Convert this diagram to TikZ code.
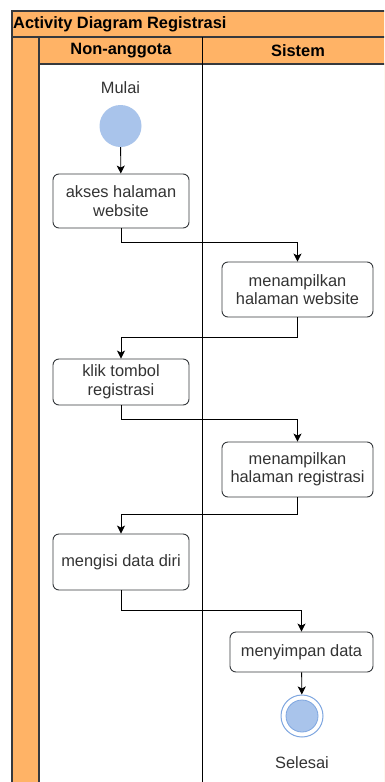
\documentclass[tikz,border=0pt]{standalone}
\usepackage{fontspec}
\setmainfont{Liberation Sans}
\usetikzlibrary{arrows.meta}

\definecolor{poolfill}{HTML}{FFB366}
\definecolor{poolline}{HTML}{36393D}
\definecolor{nodefill}{HTML}{A9C4EB}
\definecolor{ringline}{HTML}{7EA6E0}
\definecolor{txt}{HTML}{333333}

\tikzset{
  activity/.style={draw=poolline, line width=0.9pt, rounded corners=6pt, fill=white,
    align=center, text=txt, font=\fontsize{16.4}{18.5}\selectfont, inner sep=2pt},
  flow/.style={draw=black, line width=0.9pt, -{Stealth[length=8pt,width=8pt,inset=2pt]}},
  lbl/.style={text=txt, font=\fontsize{16.4}{18.5}\selectfont},
  hdr/.style={font=\bfseries\fontsize{16.4}{18.5}\selectfont, text=black},
}

\begin{document}
\begin{tikzpicture}[x=1pt,y=-1pt]
\useasboundingbox (0,0) rectangle (384,782);
\clip (0,0) rectangle (384,782);

% pool, title bar and lane headers
\draw[poolline, line width=1.3pt, fill=poolfill] (12,11) rectangle (396,795);
\draw[poolline, line width=1.3pt] (12,37) -- (396,37);
\draw[poolline, line width=1.3pt] (39,64) -- (396,64);
\draw[poolline, line width=1.3pt] (39,37) -- (39,795);
\fill[white] (39.6,64.6) rectangle (396,795);
\draw[black, line width=1pt] (202.5,37) -- (202.5,795);
\node[hdr, anchor=west, inner sep=0pt] (title) at (13,24.5) {Activity Diagram Registrasi};
\node[hdr] (lane1) at (121,51) {Non-anggota};
\node[hdr] (lane2) at (298,51) {Sistem};

% start and end
\node[lbl] (mulai) at (120.5,88) {Mulai};
\node[circle, fill=nodefill, minimum size=42pt, inner sep=0pt] (start) at (120.5,126) {};

\node[activity, minimum width=136pt, minimum height=54pt] (akses) at (121,201) {akses halaman\\website};
\node[activity, minimum width=151pt, minimum height=55pt] (tampilweb) at (297.5,289.5) {menampilkan\\halaman website};
\node[activity, minimum width=136pt, minimum height=46pt] (klik) at (121,382) {klik tombol\\registrasi};
\node[activity, minimum width=151pt, minimum height=55pt] (tampilreg) at (297.5,469.5) {menampilkan\\halaman registrasi};
\node[activity, minimum width=136pt, minimum height=56pt] (isi) at (121,562) {mengisi data diri};
\node[activity, minimum width=143pt, minimum height=40pt] (simpan) at (301.5,652) {menyimpan data};

\node[circle, draw=ringline, line width=1pt, fill=white, minimum size=42pt, inner sep=0pt] (end) at (302,716) {};
\node[circle, draw=ringline, line width=0.8pt, fill=nodefill, minimum size=32pt, inner sep=0pt] (endcore) at (end.center) {};
\node[lbl] (selesai) at (302,763) {Selesai};

% control flow
\draw[flow] (start) -- (akses);
\draw[flow] (akses.south) -- ++(0,14) -| (tampilweb.north);
\draw[flow] (tampilweb.south) -- ++(0,20) -| (klik.north);
\draw[flow] (klik.south) -- ++(0,14) -| (tampilreg.north);
\draw[flow] (tampilreg.south) -- ++(0,17) -| (isi.north);
\draw[flow] (isi.south) -- ++(0,20) -| (simpan.north);
\draw[flow] (simpan) -- (end);
\end{tikzpicture}
\end{document}
